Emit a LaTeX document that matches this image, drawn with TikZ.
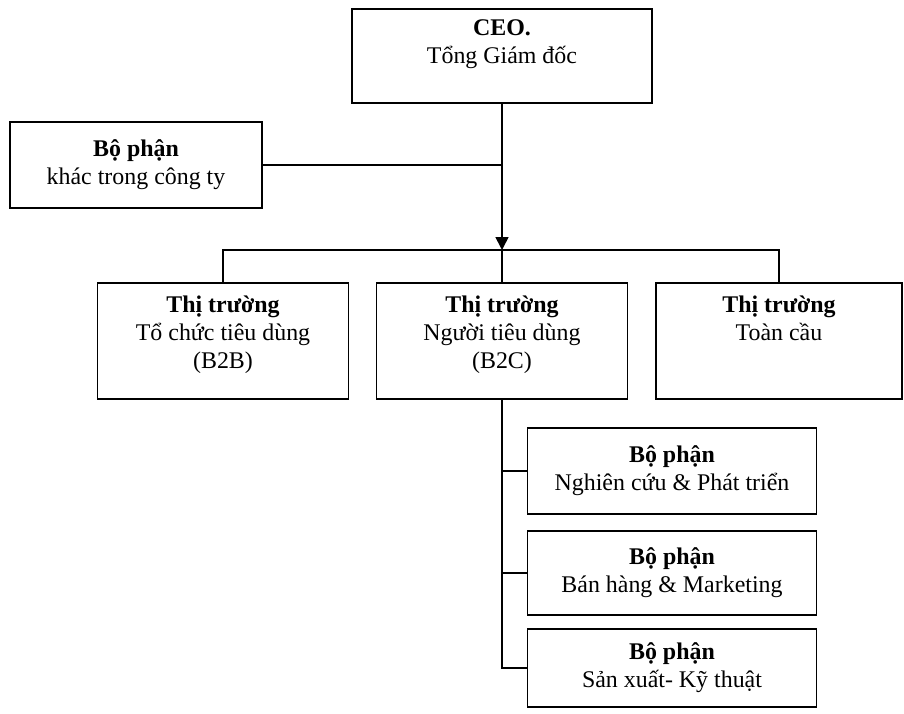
\documentclass[tikz,border=0pt]{standalone}
\usepackage{fontspec}
\setmainfont{Liberation Serif}
\usepackage{tikz}
\usetikzlibrary{arrows.meta, positioning, calc}
\tikzstyle{unit} = [draw=black, line width=1.2pt, rectangle, align=center, font=\fontsize{17}{20}\selectfont, inner sep=2pt]
\tikzstyle{link} = [line width=1.2pt, draw=black]

\begin{document}
\begin{tikzpicture}[x=0.025cm, y=-0.025cm]
    \useasboundingbox (0,0) rectangle (904,714);
    \node[unit, minimum width=300*0.025cm, minimum height=94*0.025cm] (ceo) at (502,56) {\textbf{CEO.}\\Tổng Giám đốc\\~};
    \node[unit, minimum width=252*0.025cm, minimum height=86*0.025cm] (other) at (136,165) {\textbf{Bộ phận}\\khác trong công ty};

    \node[unit, minimum width=251*0.025cm, minimum height=116*0.025cm] (b2b) at (223,341) {\textbf{Thị trường}\\Tổ chức tiêu dùng\\(B2B)\\[-8pt]~};
    \node[unit, minimum width=251*0.025cm, minimum height=116*0.025cm] (b2c) at (502,341) {\textbf{Thị trường}\\Người tiêu dùng\\(B2C)\\[-8pt]~};
    \node[unit, minimum width=246*0.025cm, minimum height=116*0.025cm] (global) at (779,341) {\textbf{Thị trường}\\Toàn cầu\\~\\[-8pt]~};

    \node[unit, minimum width=289*0.025cm, minimum height=86*0.025cm] (rd) at (672,471) {\textbf{Bộ phận}\\Nghiên cứu \& Phát triển};
    \node[unit, minimum width=289*0.025cm, minimum height=84*0.025cm] (sales) at (672,573) {\textbf{Bộ phận}\\Bán hàng \& Marketing};
    \node[unit, minimum width=289*0.025cm, minimum height=78*0.025cm] (prod) at (672,668) {\textbf{Bộ phận}\\Sản xuất- Kỹ thuật};

    \coordinate (hub) at (502,250);
    \draw[link, -{Triangle[length=0.32cm, width=0.32cm]}] (ceo.south) -- (hub);
    \draw[link] (other.east) -- (other.east -| ceo.south);
    \draw[link] (b2b.north) -- (b2b.north |- hub) -- (global.north |- hub) -- (global.north);
    \draw[link] (hub) -- (b2c.north);
    \draw[link] (b2c.south) |- (prod.west);
    \draw[link] (b2c.south |- rd.west) -- (rd.west);
    \draw[link] (b2c.south |- sales.west) -- (sales.west);
\end{tikzpicture}
\end{document}
